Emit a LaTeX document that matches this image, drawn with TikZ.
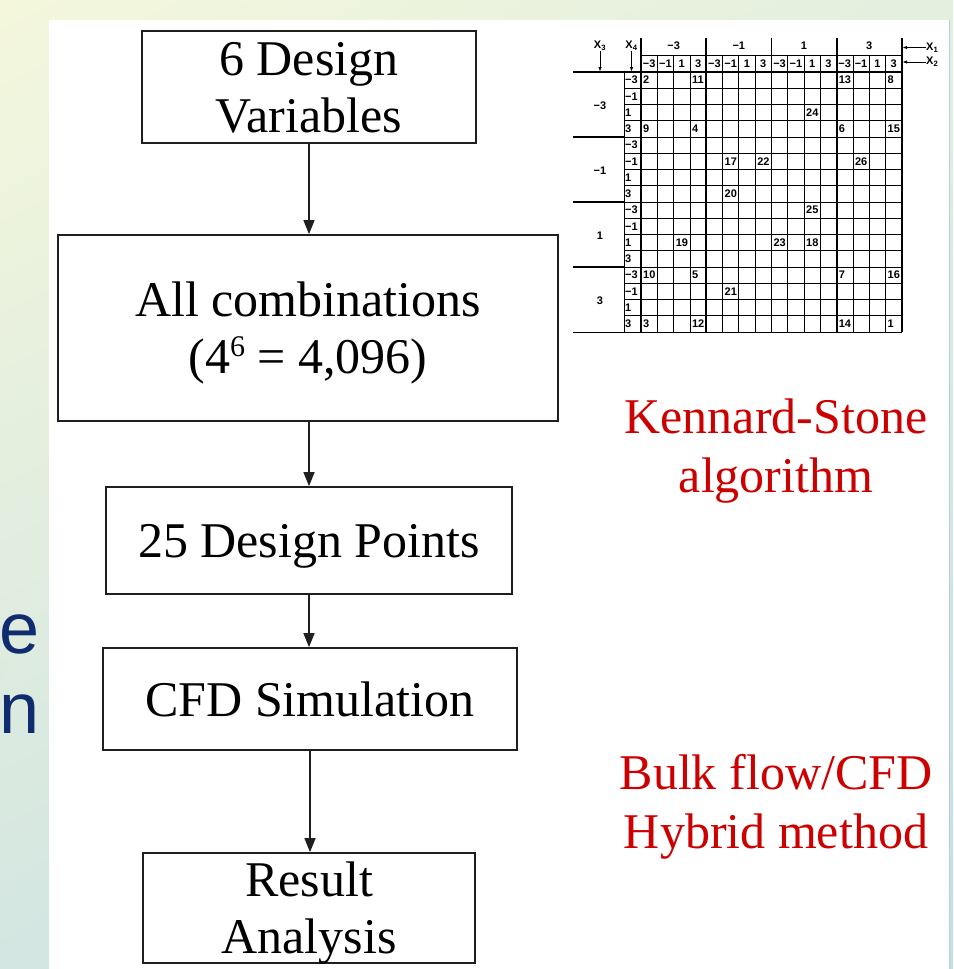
\documentclass[tikz,border=0pt]{standalone}
\usepackage{fontspec}
\setmainfont{Liberation Serif}
\newfontfamily\slidefont{Liberation Sans}
\usepackage{tikz}
\usetikzlibrary{positioning,arrows.meta,calc,shadings}
\usepackage{xcolor}
\definecolor{slideyellow}{HTML}{F4F7DC}
\definecolor{slidegreen}{HTML}{E3EFDF}
\definecolor{slideteal}{HTML}{D3E6E1}
\definecolor{slideblue}{HTML}{C6DDE8}
\definecolor{slideedge}{HTML}{B5D2DF}
\definecolor{titlenavy}{HTML}{0E2C6E}
\definecolor{notered}{HTML}{CC0000}

\begin{document}
\begin{tikzpicture}[
    x=1pt, y=-1pt,
    stepbox/.style={draw=black!88, line width=1.7pt, align=center, inner sep=0pt, text depth=0pt, font=\fontsize{50}{57}\selectfont},
    flow/.style={draw=black!88, line width=1.4pt, -{Triangle[length=14pt,width=11pt]}},
    note/.style={text=notered, align=center, inner sep=0pt, text depth=0pt, font=\fontsize{50}{59}\selectfont},
    gridthin/.style={line width=0.8pt},
    gridbold/.style={line width=1.8pt},
    cell/.style={font=\slidefont\bfseries\fontsize{11}{11}\selectfont, inner sep=0pt},
    tabarrow/.style={line width=0.7pt, -{Triangle[length=4pt,width=3pt]}}
]
    \useasboundingbox (0,0) rectangle (953,969);

    % 1. Slide background and white panel
    \shade[upper left=slideyellow, upper right=slidegreen, lower left=slideteal, lower right=slideblue] (0,0) rectangle (953,969);
    \fill[white] (49,20) rectangle (949,969);
    \draw[slideedge, line width=1.5pt] (949.5,20) -- (949.5,969);

    % slide title ends at the left edge
    \node[font=\slidefont\fontsize{72}{80}\selectfont, text=titlenavy, anchor=base east, inner sep=0pt] (tailone) at (40,653) {e};
    \node[font=\slidefont\fontsize{72}{80}\selectfont, text=titlenavy, anchor=base east, inner sep=0pt] (tailtwo) at (40,733) {n};

    % 2. Flow chart
    \node[stepbox, minimum width=334pt, minimum height=112pt] (vars) at (309,87) {6 Design\\Variables};
    \node[stepbox, minimum width=500pt, minimum height=186pt] (combos) at (308,328) {All combinations\\(4\raisebox{17pt}{\fontsize{30}{30}\selectfont 6} = 4,096)};
    \node[stepbox, minimum width=406pt, minimum height=107pt] (points) at (309,540.5) {25 Design Points};
    \node[stepbox, minimum width=414pt, minimum height=102pt] (cfd) at (310,699) {CFD Simulation};
    \node[stepbox, minimum width=332pt, minimum height=110pt] (result) at (309,908) {Result\\Analysis};

    \draw[flow] (vars.south) -- (vars.south |- combos.north);
    \draw[flow] (vars.south |- combos.south) -- (vars.south |- points.north);
    \draw[flow] (points.south) -- (points.south |- cfd.north);
    \draw[flow] (cfd.south) -- (cfd.south |- result.north);

    % 3. Methods in red
    \node[note] (kstone) at (776,446) {Kennard-Stone\\algorithm};
    \node[note] (hybrid) at (776,801) {Bulk flow/CFD\\Hybrid method};

    % 4. Design table (x1, x2 across; x3, x4 down)
    \def\colw{16.3}
    \def\rowh{16.25}
    % thin rows and columns
    \foreach \r in {1,...,16}
        \draw[gridthin] (624,{72+\r*\rowh}) -- ({641+16*\colw},{72+\r*\rowh});
    \foreach \c in {1,2,3,5,6,7,9,10,11,13,14,15}
        \draw[gridthin] ({641+\c*\colw},55) -- ({641+\c*\colw},332);
    \draw[gridthin] (641,55) -- ({641+16*\colw},55);
    \draw[gridthin] (624,72) -- (624,332);
    % heavy rules
    \foreach \c in {0,4,8,12,16}
        \draw[gridbold] ({641+\c*\colw},38) -- ({641+\c*\colw},332);
    \draw[gridbold] (573,72) -- ({641+16*\colw},72);
    \foreach \r in {4,8,12}
        \draw[gridbold] (573,{72+\r*\rowh}) -- (624,{72+\r*\rowh});
    \draw[gridbold] (573,332.5) -- (628,332.5);

    % level labels
    \foreach \v [count=\k from 0] in {−3,−1,1,3} {
        \node[cell] (xone\k) at ({641+(4*\k+2)*\colw},46) {\v};
        \node[cell] (xthree\k) at (600,{72+(4*\k+2)*\rowh+1}) {\v};
        \foreach \w [count=\j from 0] in {−3,−1,1,3} {
            \node[cell] (xtwo\k\j) at ({641+(4*\k+\j+0.5)*\colw},63.5) {\w};
            \node[cell, anchor=west] (xfour\k\j) at (625,{72+(4*\k+\j+0.5)*\rowh}) {\w};
        }
    }

    % factor names with their arrows
    \node[cell] (nthree) at (600,46) {X\textsubscript{3}};
    \node[cell] (nfour) at (631.5,46) {X\textsubscript{4}};
    \node[cell, anchor=west] (none) at (926,47.5) {X\textsubscript{1}};
    \node[cell, anchor=west] (ntwo) at (926,62) {X\textsubscript{2}};
    \coordinate (tipthree) at (600,71);
    \coordinate (tipfour) at (631.5,71);
    \coordinate (tipone) at (903,47.5);
    \coordinate (tiptwo) at (903,62);
    \draw[tabarrow] (nthree.south) -- (tipthree);
    \draw[tabarrow] (nfour.south) -- (tipfour);
    \draw[tabarrow] (none.west) -- (tipone);
    \draw[tabarrow] (ntwo.west) -- (tiptwo);

    % run numbers in their cells
    \foreach \r/\c/\v in {0/0/2, 0/3/11, 0/12/13, 0/15/8, 2/10/24, 3/0/9, 3/3/4, 3/12/6, 3/15/15,
                          5/5/17, 5/7/22, 5/13/26, 7/5/20, 8/10/25, 10/2/19, 10/8/23, 10/10/18,
                          12/0/10, 12/3/5, 12/12/7, 12/15/16, 13/5/21, 15/0/3, 15/3/12, 15/12/14, 15/15/1}
        \node[cell, anchor=west] (run\v) at ({641+\c*\colw+2},{72+(\r+0.5)*\rowh}) {\v};

\end{tikzpicture}
\end{document}
